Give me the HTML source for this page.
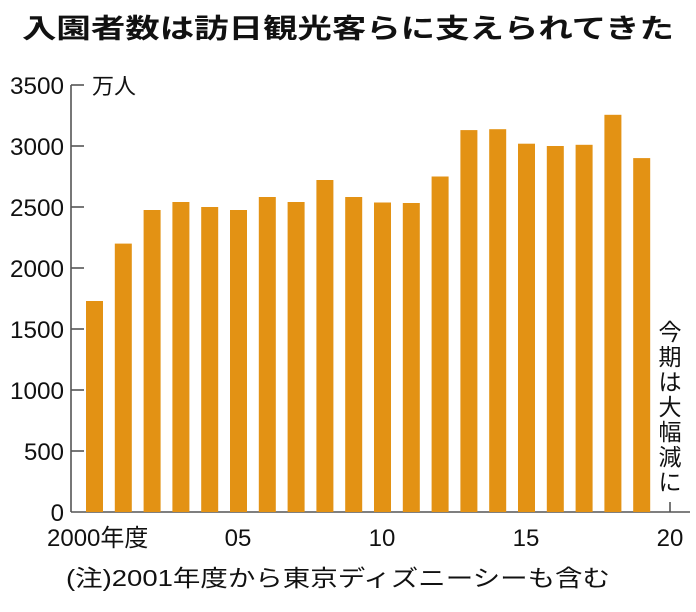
<!DOCTYPE html>
<html><head><meta charset="utf-8"><style>
body{margin:0;background:#fff;}
svg text{font-family:"Liberation Sans","Noto Sans CJK JP",sans-serif;fill:#111;}
</style></head><body>
<svg width="696" height="607" viewBox="0 0 696 607" xmlns="http://www.w3.org/2000/svg">
<rect width="696" height="607" fill="#fff"/>
<text x="348" y="38" font-size="27" font-weight="bold" text-anchor="middle" textLength="652" lengthAdjust="spacingAndGlyphs">入園者数は訪日観光客らに支えられてきた</text>
<g stroke="#555" stroke-width="1.6">
<line x1="71" y1="85" x2="71" y2="512"/>
<line x1="71" y1="512" x2="690" y2="512"/>
<line x1="71" y1="85" x2="84" y2="85"/>
<line x1="71" y1="146" x2="84" y2="146"/>
<line x1="71" y1="207" x2="84" y2="207"/>
<line x1="71" y1="268" x2="84" y2="268"/>
<line x1="71" y1="329" x2="84" y2="329"/>
<line x1="71" y1="390" x2="84" y2="390"/>
<line x1="71" y1="451" x2="84" y2="451"/>
<line x1="670" y1="502" x2="670" y2="512"/>
</g>
<g font-size="24" text-anchor="end">
<text x="64" y="94" textLength="54" lengthAdjust="spacingAndGlyphs">3500</text>
<text x="64" y="155" textLength="54" lengthAdjust="spacingAndGlyphs">3000</text>
<text x="64" y="216" textLength="54" lengthAdjust="spacingAndGlyphs">2500</text>
<text x="64" y="277" textLength="54" lengthAdjust="spacingAndGlyphs">2000</text>
<text x="64" y="338" textLength="54" lengthAdjust="spacingAndGlyphs">1500</text>
<text x="64" y="399" textLength="54" lengthAdjust="spacingAndGlyphs">1000</text>
<text x="64" y="460" textLength="40" lengthAdjust="spacingAndGlyphs">500</text>
<text x="64" y="521">0</text>
</g>
<text x="92" y="94" font-size="22">万人</text>
<g font-size="24">
<text x="47" y="546">2000年度</text>
<text x="238" y="546" text-anchor="middle">05</text>
<text x="382" y="546" text-anchor="middle">10</text>
<text x="526" y="546" text-anchor="middle">15</text>
<text x="670" y="546" text-anchor="middle">20</text>
</g>
<text x="66" y="586" font-size="23" textLength="544" lengthAdjust="spacingAndGlyphs">(注)2001年度から東京ディズニーシーも含む</text>
<g font-size="23" text-anchor="middle">
<text x="670" y="340">今</text>
<text x="670" y="365">期</text>
<text x="670" y="390">は</text>
<text x="670" y="415">大</text>
<text x="670" y="440">幅</text>
<text x="670" y="465">減</text>
<text x="670" y="490">に</text>
</g>
<g fill="#e39214">
<rect x="86" y="301" width="17" height="211"/>
<rect x="114.8" y="243.6" width="17" height="268.4"/>
<rect x="143.6" y="210" width="17" height="302"/>
<rect x="172.4" y="202" width="17" height="310"/>
<rect x="201.2" y="207" width="17" height="305"/>
<rect x="230" y="210" width="17" height="302"/>
<rect x="258.8" y="197" width="17" height="315"/>
<rect x="287.6" y="202" width="17" height="310"/>
<rect x="316.4" y="180" width="17" height="332"/>
<rect x="345.2" y="197" width="17" height="315"/>
<rect x="374" y="202.5" width="17" height="309.5"/>
<rect x="402.8" y="203" width="17" height="309"/>
<rect x="431.6" y="176.5" width="17" height="335.5"/>
<rect x="460.4" y="130.1" width="17" height="381.9"/>
<rect x="489.2" y="129.2" width="17" height="382.8"/>
<rect x="518" y="143.7" width="17" height="368.3"/>
<rect x="546.8" y="146" width="17" height="366"/>
<rect x="575.6" y="144.8" width="17" height="367.2"/>
<rect x="604.4" y="114.8" width="17" height="397.2"/>
<rect x="633.2" y="158.1" width="17" height="353.9"/>
</g>
</svg>
</body></html>
